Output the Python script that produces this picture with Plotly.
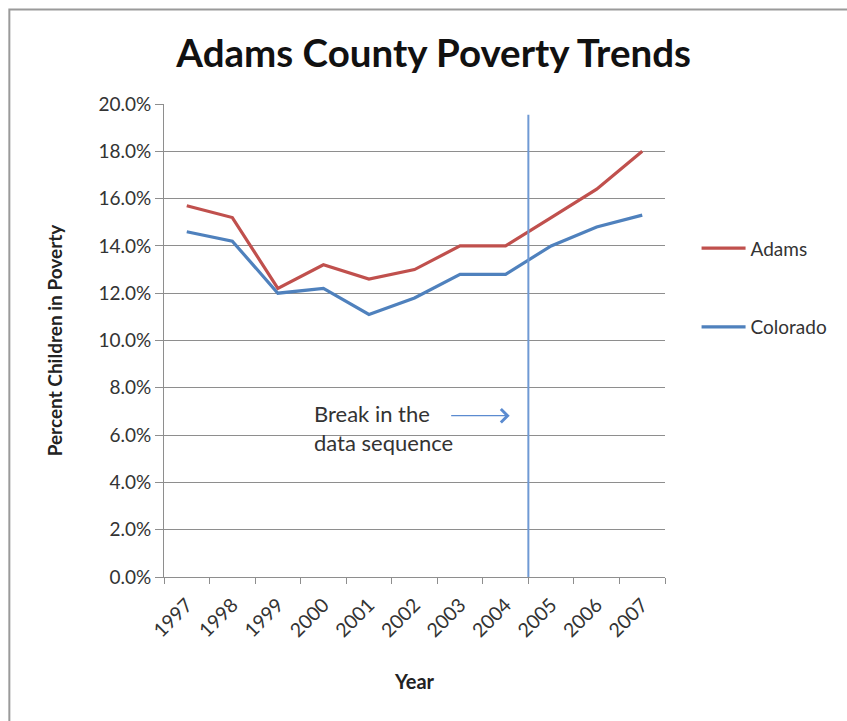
import plotly.graph_objects as go

# Child poverty rate (%) by year
years = ["1997", "1998", "1999", "2000", "2001", "2002", "2003", "2004", "2005", "2006", "2007"]
adams = [15.7, 15.2, 12.2, 13.2, 12.6, 13.0, 14.0, 14.0, 15.2, 16.4, 18.0]
colorado = [14.6, 14.2, 12.0, 12.2, 11.1, 11.8, 12.8, 12.8, 14.0, 14.8, 15.3]

# Position of the series break (between 2004 and 2005 on the category axis)
break_pos = 7.5

FONT = "Lato"
GRID = "#8e8e8e"
RED = "#c0504d"
BLUE = "#4f81bd"

fig = go.Figure()
fig.add_trace(go.Scatter(x=years, y=adams, mode="lines", name="Adams",
                         legendgroup="a",
                         line=dict(color=RED, width=3.2)))
fig.add_trace(go.Scatter(x=years, y=colorado, mode="lines", name="Colorado",
                         legendgroup="c",
                         line=dict(color=BLUE, width=3.2)))

# Vertical break marker
fig.add_shape(type="line", xref="x", yref="y", x0=break_pos, x1=break_pos,
              y0=-0.3, y1=19.55, line=dict(color="#6f9ad4", width=2))

# Outer chart frame
fig.add_shape(type="rect", xref="paper", yref="paper",
              x0=-0.3087, x1=1.37, y0=-0.31, y1=1.20,
              line=dict(color="#9a9a9a", width=2), layer="below")

fig.add_annotation(x=7.09, y=6.82, xref="x", yref="y", ax=-60, ay=0,
                   text="", showarrow=True, arrowhead=4, arrowsize=2,
                   arrowwidth=1.3, arrowcolor="#5b8bd0")
fig.add_annotation(x=2.76, y=6.3, xref="x", yref="y", showarrow=False,
                   text="Break in the<br>data sequence", align="left",
                   xanchor="left", yanchor="middle",
                   font=dict(family=FONT, size=22, color="#333333"))

fig.update_layout(
    width=847, height=721,
    margin=dict(l=164, r=182, t=104, b=144),
    paper_bgcolor="white", plot_bgcolor="white",
    font=dict(family=FONT, size=20, color="#333333"),
    title=dict(text="<b>Adams County Poverty Trends</b>", x=0.512, xref="container",
               xanchor="center", y=0.926, yref="container", yanchor="middle",
               font=dict(family=FONT, size=38.5, color="#111111")),
    showlegend=True,
    legend=dict(x=1.063, xanchor="left", y=0.735, yanchor="top",
                tracegroupgap=51, itemwidth=44,
                font=dict(family=FONT, size=19, color="#333333"),
                bgcolor="rgba(0,0,0,0)"),
    xaxis=dict(type="category", range=[-0.5, 10.5], tickangle=-45,
               showline=True, linecolor=GRID, linewidth=1,
               ticks="outside", tickson="boundaries", ticklen=6,
               tickcolor=GRID, showgrid=False, ticklabelstandoff=8,
               tickfont=dict(family=FONT, size=19.5, color="#333333"),
               title=dict(text="<b>Year</b>", standoff=34,
                          font=dict(family=FONT, size=20, color="#222222"))),
    yaxis=dict(range=[0, 20], dtick=2, tickformat=".1f", ticksuffix="%",
               showline=True, linecolor=GRID, linewidth=1,
               ticks="outside", ticklen=8, tickcolor=GRID,
               showgrid=True, gridcolor=GRID, gridwidth=1, zeroline=False,
               tickfont=dict(family=FONT, size=19, color="#333333"),
               title=dict(text="<b>Percent Children in Poverty</b>", standoff=30,
                          font=dict(family=FONT, size=19, color="#222222"))),
)

fig.write_html("out.html")
